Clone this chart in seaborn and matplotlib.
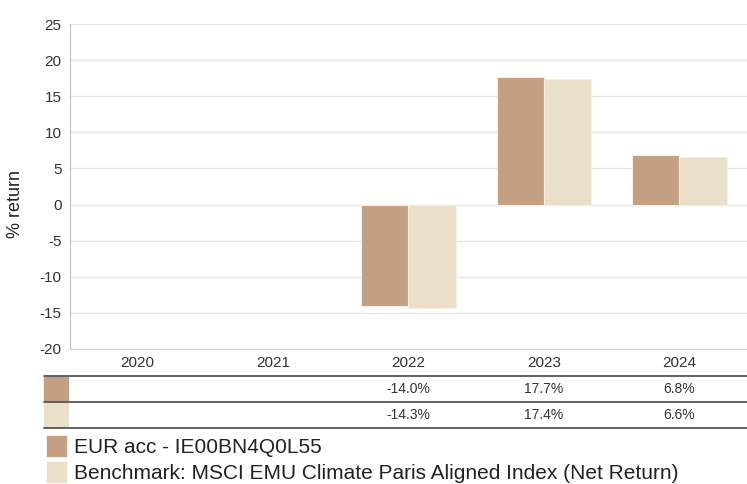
import numpy as np
import pandas as pd
import matplotlib
matplotlib.use('Agg')
import matplotlib.pyplot as plt
import matplotlib.transforms as mtransforms
from matplotlib.patches import Rectangle
from matplotlib.lines import Line2D
import seaborn as sns

# Data
years = ['2020', '2021', '2022', '2023', '2024']
fund_name = 'EUR acc - IE00BN4Q0L55'
bench_name = 'Benchmark: MSCI EMU Climate Paris Aligned Index (Net Return)'
fund_returns = [np.nan, np.nan, -14.0, 17.7, 6.8]
bench_returns = [np.nan, np.nan, -14.3, 17.4, 6.6]

fund_color = '#C49F82'
bench_color = '#EAE0C9'

sns.set_style('white')
plt.rcParams['font.family'] = ['Liberation Sans', 'DejaVu Sans']
plt.rcParams['axes.unicode_minus'] = False

df = pd.DataFrame({
    'year': years * 2,
    'series': [fund_name] * len(years) + [bench_name] * len(years),
    'value': fund_returns + bench_returns,
})

fig = plt.figure(figsize=(7.47, 4.84), dpi=100)
ax = fig.add_axes([70 / 747, 1 - 349 / 484, 677 / 747, 325 / 484])

sns.barplot(data=df.dropna(), x='year', y='value', hue='series', order=years,
            hue_order=[fund_name, bench_name], palette=[fund_color, bench_color],
            saturation=1, width=0.7, edgecolor='#F4EEE6', linewidth=0.8,
            ax=ax, legend=False)

ax.set_ylim(-20, 25)
ax.set_yticks(range(-20, 26, 5))
ax.set_xlim(-0.5, len(years) - 0.5)
ax.yaxis.grid(True, color='#E6E6E6', linewidth=1)
ax.set_axisbelow(True)
for s in ['top', 'right']:
    ax.spines[s].set_visible(False)
ax.spines['left'].set_color('#BFBFBF')
ax.spines['bottom'].set_color('#D0D0D0')
ax.tick_params(axis='y', labelsize=11, colors='#333333', length=0, pad=6)
ax.tick_params(axis='x', labelsize=11, colors='#333333', length=0, pad=5)
ax.set_xlabel('')
ax.set_ylabel('% return', fontsize=13, color='#222222')
ax.yaxis.set_label_coords(-0.068, 0.446)

# table under the chart
trans = mtransforms.blended_transform_factory(ax.transData, fig.transFigure)
line_y = [1 - 376 / 484, 1 - 402 / 484, 1 - 428 / 484]
row_y = [1 - 389 / 484, 1 - 415 / 484]
rows = [fund_returns, bench_returns]
colors = [fund_color, bench_color]
for y in line_y:
    fig.add_artist(Line2D([44 / 747, 1], [y, y], color='#555555', linewidth=1.3,
                          transform=fig.transFigure))
for i, (vals, c) in enumerate(zip(rows, colors)):
    fig.add_artist(Rectangle((44 / 747, line_y[i + 1] + 1 / 484), 24 / 747,
                             (line_y[i] - line_y[i + 1]) - 2 / 484,
                             color=c, transform=fig.transFigure))
    for j, v in enumerate(vals):
        if not np.isnan(v):
            ax.text(j, row_y[i], '{0:.1f}%'.format(v), transform=trans,
                    ha='center', va='center', fontsize=10, color='#333333')

# legend
handles = [Rectangle((0, 0), 1, 1, color=fund_color),
           Rectangle((0, 0), 1, 1, color=bench_color)]
fig.legend(handles, [fund_name, bench_name], loc='upper left',
           bbox_to_anchor=(47 / 747, 1 - 436 / 484), frameon=False,
           fontsize=15, handlelength=0.9, handleheight=1.1,
           handletextpad=0.4, labelspacing=0.25, borderpad=0, borderaxespad=0,
           labelcolor='#222222')

plt.savefig('out.png', dpi=100)
